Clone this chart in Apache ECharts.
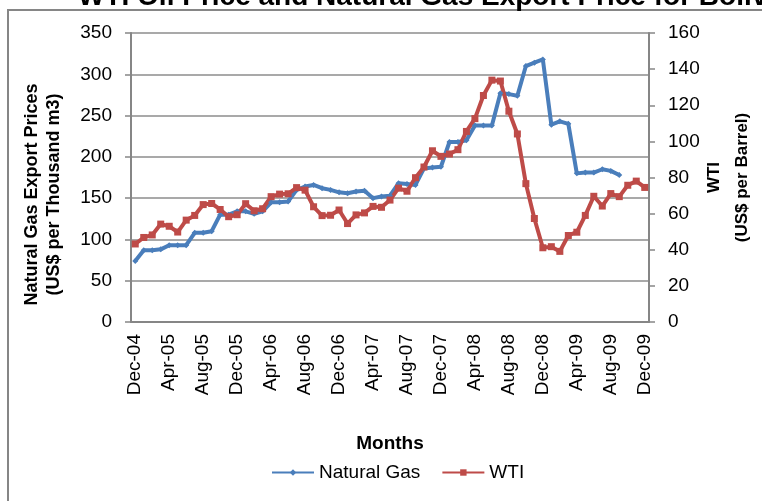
<!doctype html>
<html lang="en">
<head>
    <meta charset="UTF-8">
    <title>WTI Oil Price and Natural Gas Export Price</title>
    <style>
        * {
            margin: 0;
            padding: 0;
        }

        body {
            background: #ffffff;
        }

        #chart {
            width: 762px;
            height: 501px;
        }
    </style>
</head>
<body>
<div id="chart"></div>
<script src="https://cdn.jsdelivr.net/npm/echarts@6/dist/echarts.min.js"></script>
<script type="application/javascript">
    // monthly, Dec-04 .. Dec-09
    const months = [
        'Dec-04', 'Jan-05', 'Feb-05', 'Mar-05', 'Apr-05', 'May-05', 'Jun-05', 'Jul-05', 'Aug-05', 'Sep-05', 'Oct-05', 'Nov-05',
        'Dec-05', 'Jan-06', 'Feb-06', 'Mar-06', 'Apr-06', 'May-06', 'Jun-06', 'Jul-06', 'Aug-06', 'Sep-06', 'Oct-06', 'Nov-06',
        'Dec-06', 'Jan-07', 'Feb-07', 'Mar-07', 'Apr-07', 'May-07', 'Jun-07', 'Jul-07', 'Aug-07', 'Sep-07', 'Oct-07', 'Nov-07',
        'Dec-07', 'Jan-08', 'Feb-08', 'Mar-08', 'Apr-08', 'May-08', 'Jun-08', 'Jul-08', 'Aug-08', 'Sep-08', 'Oct-08', 'Nov-08',
        'Dec-08', 'Jan-09', 'Feb-09', 'Mar-09', 'Apr-09', 'May-09', 'Jun-09', 'Jul-09', 'Aug-09', 'Sep-09', 'Oct-09', 'Nov-09',
        'Dec-09'
    ];

    // US$ per thousand m3 (left axis)
    const naturalGas = [
        74, 87, 87, 88, 93, 93, 93, 108, 108, 110, 130, 130,
        134, 134, 131, 134, 145, 145, 146, 160, 164, 166, 162, 160,
        157, 156, 158, 159, 150, 152, 153, 168, 167, 166, 186, 187,
        188, 218, 218, 220, 238, 238, 238, 277, 276, 274, 310, 314,
        318, 239, 243, 240, 180, 181, 181, 185, 183, 178, null, null,
        null
    ];

    // US$ per barrel (right axis)
    const wti = [
        43.2, 46.8, 48.2, 54.2, 53.0, 49.8, 56.4, 59.0, 65.0, 65.6, 62.3, 58.3,
        59.4, 65.5, 61.6, 62.7, 69.4, 70.8, 71.0, 74.4, 73.0, 63.8, 58.9, 59.1,
        62.0, 54.5, 59.3, 60.4, 64.0, 63.5, 67.5, 74.1, 72.4, 79.9, 85.8, 94.8,
        91.7, 93.0, 95.4, 105.5, 112.6, 125.4, 133.9, 133.4, 116.7, 104.1, 76.6, 57.3,
        41.1, 41.7, 39.1, 47.9, 49.7, 59.0, 69.6, 64.2, 71.1, 69.4, 75.7, 78.0,
        74.5
    ];

    const gasColor = '#4A7EBB';
    const wtiColor = '#BE4B48';
    const axisGray = '#868686';
    const font = 'Liberation Sans, Arial, sans-serif';

    const chart = echarts.init(document.getElementById('chart'), null, {renderer: 'canvas'});

    const option = {
        backgroundColor: '#ffffff',
        animation: false,
        title: {
            text: 'WTI Oil Price and Natural Gas Export Price for Bolivia',
            left: 78,
            top: -17,
            padding: 0,
            textStyle: {
                fontFamily: font,
                fontSize: 28,
                fontWeight: 'bold',
                color: '#000'
            }
        },
        graphic: [{
            type: 'rect',
            shape: {x: 8, y: 10, width: 800, height: 600},
            style: {fill: 'none', stroke: axisGray, lineWidth: 2},
            silent: true
        }],
        legend: {
            left: 271,
            top: 463,
            padding: 0,
            itemWidth: 42,
            itemHeight: 8,
            itemGap: 21,
            textStyle: {fontFamily: font, fontSize: 19, color: '#000'},
            data: ['Natural Gas', 'WTI']
        },
        grid: {
            left: 131,
            right: 113,
            top: 33,
            bottom: 179,
            outerBoundsMode: 'none'
        },
        xAxis: {
            type: 'category',
            data: months,
            boundaryGap: true,
            name: 'Months',
            nameLocation: 'middle',
            nameGap: 112,
            nameMoveOverlap: false,
            nameTextStyle: {fontFamily: font, fontSize: 19, fontWeight: 'bold', color: '#000'},
            axisLine: {lineStyle: {color: axisGray, width: 2}},
            axisTick: {show: false},
            axisLabel: {
                interval: 3,
                rotate: 90,
                margin: 12,
                fontFamily: font,
                fontSize: 19,
                color: '#000'
            }
        },
        yAxis: [
            {
                type: 'value',
                min: 0,
                max: 350,
                interval: 50,
                name: 'Natural Gas Export Prices\n(US$ per Thousand m3)',
                nameLocation: 'middle',
                nameRotate: 90,
                nameGap: 66,
                nameMoveOverlap: false,
                nameTextStyle: {
                    fontFamily: font,
                    fontSize: 18,
                    fontWeight: 'bold',
                    color: '#000',
                    lineHeight: 22,
                    padding: [0, 34, 0, 0]
                },
                axisLine: {show: true, lineStyle: {color: axisGray, width: 2}},
                axisTick: {show: true, length: 6, lineStyle: {color: axisGray, width: 1.5}},
                axisLabel: {margin: 19, fontFamily: font, fontSize: 19, color: '#000'},
                splitLine: {lineStyle: {color: '#8c8c8c', width: 1.5}}
            },
            {
                type: 'value',
                position: 'right',
                min: 0,
                max: 160,
                interval: 20,
                name: 'WTI\n(US$ per Barrel)',
                nameLocation: 'middle',
                nameRotate: 90,
                nameGap: 51,
                nameMoveOverlap: false,
                nameTextStyle: {
                    fontFamily: font,
                    fontSize: 17,
                    fontWeight: 'bold',
                    color: '#000',
                    lineHeight: 28
                },
                axisLine: {show: true, lineStyle: {color: axisGray, width: 2}},
                axisTick: {show: true, length: 6, lineStyle: {color: axisGray, width: 1.5}},
                axisLabel: {margin: 19, fontFamily: font, fontSize: 19, color: '#000'},
                splitLine: {show: false}
            }
        ],
        series: [
            {
                name: 'Natural Gas',
                type: 'line',
                yAxisIndex: 0,
                data: naturalGas,
                symbol: 'diamond',
                symbolSize: 6,
                showSymbol: true,
                showAllSymbol: true,
                color: gasColor,
                lineStyle: {width: 4, color: gasColor},
                itemStyle: {color: gasColor}
            },
            {
                name: 'WTI',
                type: 'line',
                yAxisIndex: 1,
                data: wti,
                symbol: 'rect',
                symbolSize: 7,
                showSymbol: true,
                showAllSymbol: true,
                color: wtiColor,
                lineStyle: {width: 4, color: wtiColor},
                itemStyle: {color: wtiColor}
            }
        ]
    };

    chart.setOption(option);
</script>
</body>
</html>
